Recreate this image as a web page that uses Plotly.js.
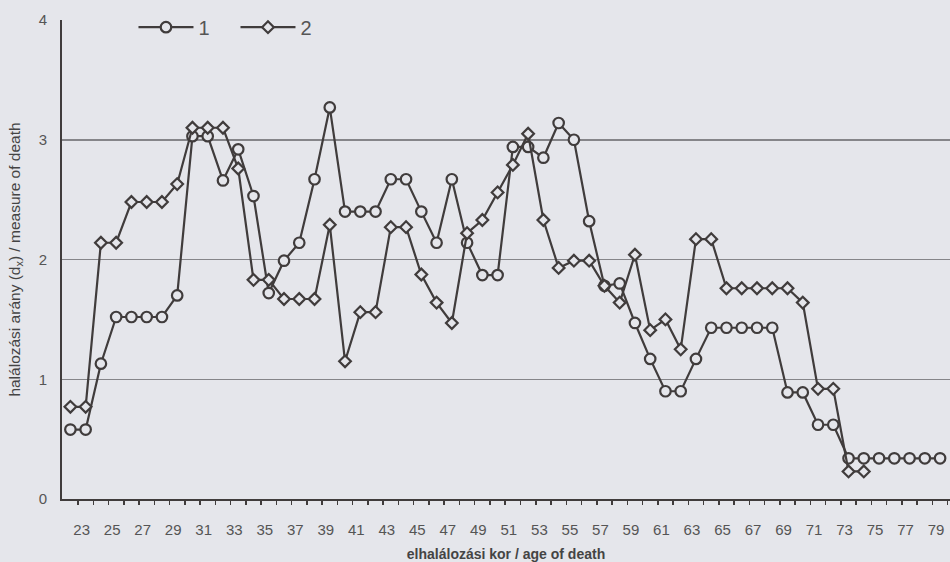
<!DOCTYPE html>
<html>
<head>
<meta charset="utf-8">
<script src="https://cdn.plot.ly/plotly-3.0.1.min.js"></script>
<style>html,body{margin:0;padding:0;background:#e5e6eb;}#chart{width:950px;height:562px;}</style>
</head>
<body>
<div id="chart"></div>
<script>
// Ages (x categories)
const ages1 = [22,23,24,25,26,27,28,29,30,31,32,33,34,35,36,37,38,39,40,41,42,43,44,45,46,47,48,49,50,51,52,53,54,55,56,57,58,59,60,61,62,63,64,65,66,67,68,69,70,71,72,73,74,75,76,77,78,79];
const series1 = [0.58,0.58,1.13,1.52,1.52,1.52,1.52,1.70,3.03,3.03,2.66,2.92,2.53,1.72,1.99,2.14,2.67,3.27,2.40,2.40,2.40,2.67,2.67,2.40,2.14,2.67,2.14,1.87,1.87,2.94,2.94,2.85,3.14,3.00,2.32,1.78,1.80,1.47,1.17,0.90,0.90,1.17,1.43,1.43,1.43,1.43,1.43,0.89,0.89,0.62,0.62,0.34,0.34,0.34,0.34,0.34,0.34,0.34];
const ages2 = [22,23,24,25,26,27,28,29,30,31,32,33,34,35,36,37,38,39,40,41,42,43,44,45,46,47,48,49,50,51,52,53,54,55,56,57,58,59,60,61,62,63,64,65,66,67,68,69,70,71,72,73,74];
const series2 = [0.77,0.77,2.14,2.14,2.48,2.48,2.48,2.63,3.10,3.10,3.10,2.76,1.83,1.83,1.67,1.67,1.67,2.29,1.15,1.56,1.56,2.27,2.27,1.875,1.64,1.47,2.22,2.33,2.56,2.79,3.05,2.33,1.93,1.99,1.99,1.78,1.64,2.04,1.41,1.50,1.25,2.17,2.17,1.76,1.76,1.76,1.76,1.76,1.64,0.92,0.92,0.23,0.23];
const tickAges = [23,25,27,29,31,33,35,37,39,41,43,45,47,49,51,53,55,57,59,61,63,65,67,69,71,73,75,77,79];
const tickLabels = tickAges.map(String);
const yTicks = [0,1,2,3,4];
const seriesNames = ['1','2'];

// tick marks sit between the yearly categories
const boundaryTicks = ages1.map(a => a + 0.5);

const bg = '#e5e6eb';
const ink = '#403c3c';

const traces = [
  {x: ages1, y: series1, name: seriesNames[0], type: 'scatter', mode: 'lines+markers',
   line: {color: ink, width: 2.2},
   marker: {symbol: 'circle', size: 10.5, color: bg, line: {color: ink, width: 2.2}}},
  {x: ages2, y: series2, name: seriesNames[1], type: 'scatter', mode: 'lines+markers',
   line: {color: ink, width: 2.2},
   marker: {symbol: 'diamond', size: 9, color: bg, line: {color: ink, width: 2.2}}}
];

const layout = {
  width: 950, height: 562,
  paper_bgcolor: bg, plot_bgcolor: bg,
  margin: {l: 62, r: 0, t: 20, b: 63},
  font: {family: 'Liberation Sans, Arial, sans-serif', color: '#555'},
  showlegend: true,
  legend: {orientation: 'h', x: 0.0805, y: 0.985, xanchor: 'left', yanchor: 'middle',
           font: {size: 20, color: '#555'}, bgcolor: 'rgba(0,0,0,0)',
           itemwidth: 55, entrywidth: 32, entrywidthmode: 'pixels'},
  xaxis: {
    range: [21.45, 79.65],
    tickmode: 'array', tickvals: tickAges,
    ticktext: tickLabels.map(t => '<br>' + t),
    ticks: 'outside', ticklen: 4, tickwidth: 1, tickcolor: 'rgba(0,0,0,0)',
    ticklabelstandoff: -8,
    ticklabelshift: -4,
    minor: {tickmode: 'array', tickvals: boundaryTicks, ticks: 'outside', ticklen: 4, tickwidth: 1.5, tickcolor: ink, showgrid: false},
    tickfont: {size: 15, color: '#555'},
    showline: true, linecolor: ink, linewidth: 2,
    showgrid: false, zeroline: false, automargin: false,
    title: {text: '<b>elhalálozási kor / age of death</b>', font: {size: 14, color: '#444'}, standoff: 18}
  },
  yaxis: {
    range: [0, 4],
    tickmode: 'array', tickvals: yTicks,
    ticks: '', tickfont: {size: 15, color: '#555'},
    ticklabelstandoff: 10,
    showline: true, linecolor: ink, linewidth: 2,
    showgrid: true, gridcolor: '#858589', gridwidth: 1.5,
    zeroline: false, automargin: false,
    title: {text: 'halálozási arány (d<sub>x</sub>) / measure of death', font: {size: 15.5, color: '#444'}, standoff: 14}
  }
};

Plotly.newPlot('chart', traces, layout, {displayModeBar: false, staticPlot: true});
</script>
</body>
</html>
